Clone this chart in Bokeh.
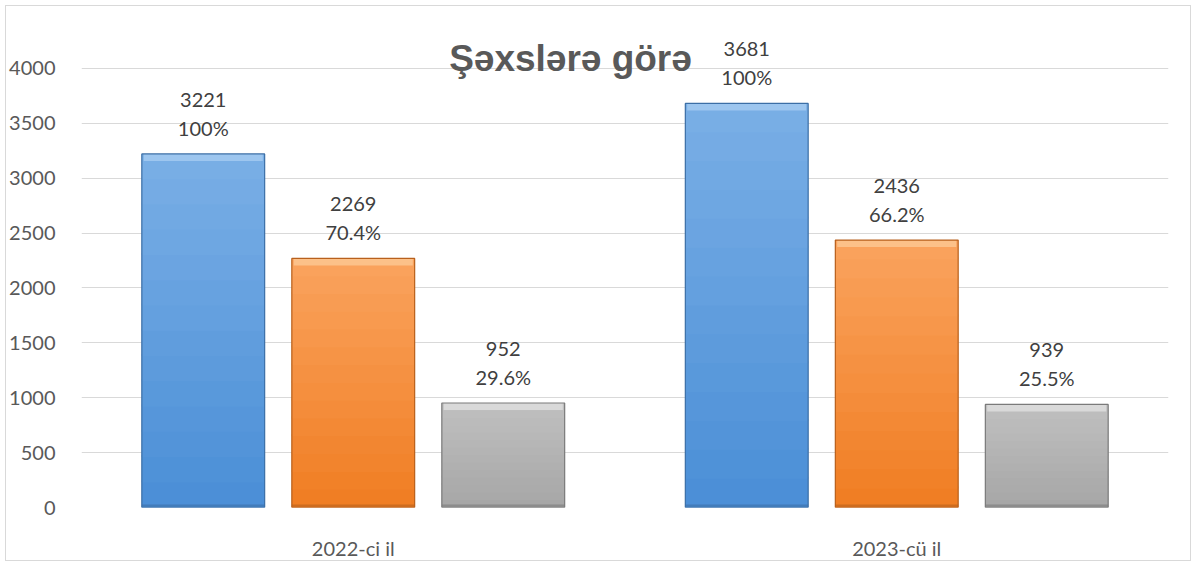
from bokeh.plotting import figure
from bokeh.models import FactorRange, Range1d, FixedTicker, Label, ColumnDataSource
from bokeh.transform import dodge
from bokeh.core.properties import value
from bokeh.embed import file_html
from bokeh.resources import INLINE

# ---- data ----
years = ["2022-ci il", "2023-cü il"]
total = [3221, 3681]
part_b = [2269, 2436]
part_c = [952, 939]
pct_total = ["100%", "100%"]
pct_b = ["70.4%", "66.2%"]
pct_c = ["29.6%", "25.5%"]
y_ticks = [0, 500, 1000, 1500, 2000, 2500, 3000, 3500, 4000]
title_text = "Şəxslərə görə"

W, H = 1186, 556
Y_END = 4472.7
p = figure(width=W, height=H, x_range=FactorRange(*years, range_padding=0),
           y_range=Range1d(0, Y_END), output_backend="svg", toolbar_location=None,
           min_border_left=75, min_border_right=24, min_border_top=10, min_border_bottom=54)
p.x_range.factor_padding = 0
p.styles = {"border": "1px solid #D9D9D9", "margin": "5px 0 0 5px"}
p.outline_line_color = None
p.background_fill_color = "white"

FONT = "Lato"
TXT = "#404040"
FS = "20px"

p.yaxis.ticker = FixedTicker(ticks=y_ticks)
p.yaxis.axis_line_color = None
p.yaxis.major_tick_line_color = None
p.yaxis.minor_tick_line_color = None
p.yaxis.major_label_text_font = FONT
p.yaxis.major_label_text_font_size = FS
p.yaxis.major_label_text_color = "#595959"
p.yaxis.major_label_standoff = 20

p.xaxis.axis_line_color = None
p.xaxis.major_tick_line_color = None
p.xaxis.major_label_text_font = FONT
p.xaxis.major_label_text_font_size = FS
p.xaxis.major_label_text_color = "#595959"
p.xaxis.major_label_standoff = 22

p.xgrid.grid_line_color = None
p.ygrid.ticker = FixedTicker(ticks=y_ticks)
p.ygrid.grid_line_color = "#D9D9D9"
p.ygrid.grid_line_width = 1


def mix(c1, c2, t):
    a = [int(c1[i:i + 2], 16) for i in (1, 3, 5)]
    b = [int(c2[i:i + 2], 16) for i in (1, 3, 5)]
    return "#%02x%02x%02x" % tuple(round(a[k] + (b[k] - a[k]) * t) for k in range(3))


off = 0.276
bw = 0.226
NB = 14
PX = Y_END / 492.0  # data units per screen pixel
series = [
    (total, pct_total, -off, "#4A8ED6", "#7AAFE6", "#A9CDF2", "#3C6FA6"),
    (part_b, pct_b, 0.0, "#F07D22", "#FAA35E", "#FCCB98", "#B8601C"),
    (part_c, pct_c, off, "#A6A6A6", "#C0C0C0", "#E2E2E2", "#7A7A7A"),
]
for vals, pcts, dx, c_bot, c_top, c_hi, c_line in series:
    src = ColumnDataSource(dict(years=years, v=vals, vs=[str(v) for v in vals], pct=pcts))
    xx = dodge("years", dx, range=p.x_range)
    # base fill, then a vertical gradient built from overlapping bands of each bar
    p.vbar(x=xx, top="v", width=bw, source=src, fill_color=mix(c_bot, c_top, 0.5), line_color=None)
    for i in range(NB):
        bsrc = ColumnDataSource(dict(years=years,
                                     b=[v * i / NB for v in vals],
                                     t=[min(v, v * (i + 1) / NB + 2 * PX) for v in vals]))
        col = mix(c_bot, c_top, (i + 0.5) / NB)
        p.vbar(x=xx, bottom="b", top="t", width=bw, source=bsrc,
               fill_color=col, line_color=None)
    # bevel: light top strip and dark bottom strip
    hsrc = ColumnDataSource(dict(years=years, b=[v - 7 * PX for v in vals], t=vals,
                                 b2=[0 for v in vals], t2=[3 * PX for v in vals]))
    p.vbar(x=xx, bottom="b", top="t", width=bw * 0.97, source=hsrc,
           fill_color=c_hi, fill_alpha=0.75, line_color=None)
    p.vbar(x=xx, bottom="b2", top="t2", width=bw, source=hsrc,
           fill_color=c_line, fill_alpha=0.6, line_color=None)
    p.vbar(x=xx, top="v", width=bw, source=src, fill_color=None,
           line_color=c_line, line_width=1.2)
    p.text(x=xx, y="v", text="pct", source=src, y_offset=-26, text_align="center",
           text_baseline="middle", text_font=value(FONT), text_font_size=FS, text_color=TXT)
    p.text(x=xx, y="v", text="vs", source=src, y_offset=-54, text_align="center",
           text_baseline="middle", text_font=value(FONT), text_font_size=FS, text_color=TXT)

p.add_layout(Label(x=0.8997, y=4091, text=title_text, text_align="center",
                   text_baseline="alphabetic",
                   text_font="Liberation Sans", text_font_style="bold", text_font_size="37px",
                   text_color="#595959"))

open("out.html", "w").write(file_html(p, INLINE))
